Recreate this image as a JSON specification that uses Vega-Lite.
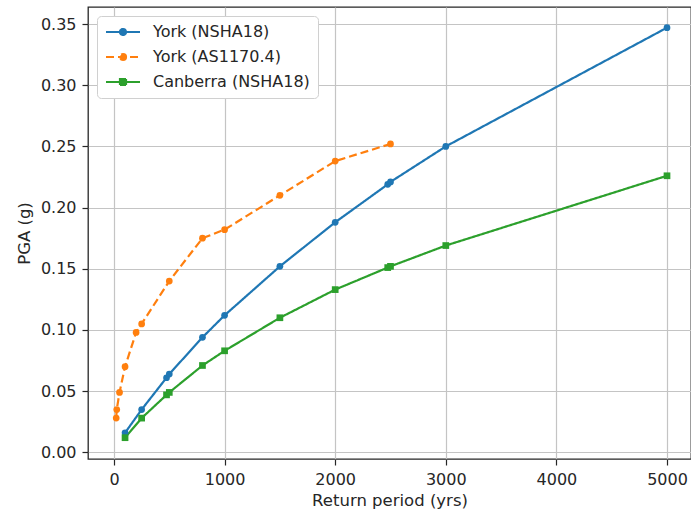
{
  "$schema": "https://vega.github.io/schema/vega-lite/v6.json",
  "width": 603,
  "height": 452,
  "autosize": {"type": "none"},
  "padding": {"left": 88, "top": 7, "right": 0, "bottom": 52},
  "background": "white",
  "config": {
    "font": "DejaVu Sans",
    "view": {"stroke": "#262626", "strokeWidth": 1.3},
    "axis": {
      "labelFont": "DejaVu Sans",
      "titleFont": "DejaVu Sans",
      "labelFontSize": 16,
      "titleFontSize": 16.5,
      "titleFontWeight": "normal",
      "labelColor": "#262626",
      "titleColor": "#262626",
      "domain": false,
      "tickColor": "#262626",
      "tickSize": 6,
      "tickWidth": 1.2,
      "gridColor": "#c4c4c4",
      "gridWidth": 1.2
    }
  },
  "data": {
    "values": [
      {"series": "York (NSHA18)", "rp": 100, "pga": 0.016},
      {"series": "York (NSHA18)", "rp": 250, "pga": 0.035},
      {"series": "York (NSHA18)", "rp": 475, "pga": 0.061},
      {"series": "York (NSHA18)", "rp": 500, "pga": 0.064},
      {"series": "York (NSHA18)", "rp": 800, "pga": 0.094},
      {"series": "York (NSHA18)", "rp": 1000, "pga": 0.112},
      {"series": "York (NSHA18)", "rp": 1500, "pga": 0.152},
      {"series": "York (NSHA18)", "rp": 2000, "pga": 0.188},
      {"series": "York (NSHA18)", "rp": 2475, "pga": 0.219},
      {"series": "York (NSHA18)", "rp": 2500, "pga": 0.221},
      {"series": "York (NSHA18)", "rp": 3000, "pga": 0.250},
      {"series": "York (NSHA18)", "rp": 5000, "pga": 0.347},
      {"series": "York (AS1170.4)", "rp": 20, "pga": 0.028},
      {"series": "York (AS1170.4)", "rp": 25, "pga": 0.035},
      {"series": "York (AS1170.4)", "rp": 50, "pga": 0.049},
      {"series": "York (AS1170.4)", "rp": 100, "pga": 0.070},
      {"series": "York (AS1170.4)", "rp": 200, "pga": 0.098},
      {"series": "York (AS1170.4)", "rp": 250, "pga": 0.105},
      {"series": "York (AS1170.4)", "rp": 500, "pga": 0.140},
      {"series": "York (AS1170.4)", "rp": 800, "pga": 0.175},
      {"series": "York (AS1170.4)", "rp": 1000, "pga": 0.182},
      {"series": "York (AS1170.4)", "rp": 1500, "pga": 0.210},
      {"series": "York (AS1170.4)", "rp": 2000, "pga": 0.238},
      {"series": "York (AS1170.4)", "rp": 2500, "pga": 0.252},
      {"series": "Canberra (NSHA18)", "rp": 100, "pga": 0.012},
      {"series": "Canberra (NSHA18)", "rp": 250, "pga": 0.028},
      {"series": "Canberra (NSHA18)", "rp": 475, "pga": 0.047},
      {"series": "Canberra (NSHA18)", "rp": 500, "pga": 0.049},
      {"series": "Canberra (NSHA18)", "rp": 800, "pga": 0.071},
      {"series": "Canberra (NSHA18)", "rp": 1000, "pga": 0.083},
      {"series": "Canberra (NSHA18)", "rp": 1500, "pga": 0.110},
      {"series": "Canberra (NSHA18)", "rp": 2000, "pga": 0.133},
      {"series": "Canberra (NSHA18)", "rp": 2475, "pga": 0.151},
      {"series": "Canberra (NSHA18)", "rp": 2500, "pga": 0.152},
      {"series": "Canberra (NSHA18)", "rp": 3000, "pga": 0.169},
      {"series": "Canberra (NSHA18)", "rp": 5000, "pga": 0.226}
    ]
  },
  "encoding": {
    "x": {
      "field": "rp", "type": "quantitative",
      "scale": {"domain": [-235, 5217], "nice": false, "zero": false},
      "axis": {"title": "Return period (yrs)", "values": [0, 1000, 2000, 3000, 4000, 5000], "format": "d", "labelPadding": 6, "titlePadding": 5}
    },
    "y": {
      "field": "pga", "type": "quantitative",
      "scale": {"domain": [-0.0054, 0.3639], "nice": false, "zero": false},
      "axis": {"title": "PGA (g)", "values": [0, 0.05, 0.1, 0.15, 0.2, 0.25, 0.3, 0.35], "format": ".2f", "labelPadding": 6, "titlePadding": 8}
    },
    "color": {
      "field": "series", "type": "nominal",
      "scale": {"domain": ["York (NSHA18)", "York (AS1170.4)", "Canberra (NSHA18)"], "range": ["#1f77b4", "#ff7f0e", "#2ca02c"]}
    }
  },
  "layer": [
    {
      "mark": {"type": "line", "strokeWidth": 2.2},
      "encoding": {
        "strokeDash": {
          "field": "series", "type": "nominal",
          "scale": {"domain": ["York (NSHA18)", "York (AS1170.4)", "Canberra (NSHA18)"], "range": [[1, 0], [8, 4], [1, 0]]}
        },
        "color": {
          "field": "series", "type": "nominal",
          "scale": {"domain": ["York (NSHA18)", "York (AS1170.4)", "Canberra (NSHA18)"], "range": ["#1f77b4", "#ff7f0e", "#2ca02c"]},
          "legend": {
            "title": null,
            "orient": "none",
            "legendX": 9,
            "legendY": 9,
            "padding": 8,
            "fillColor": "white",
            "strokeColor": "#d0d0d0",
            "cornerRadius": 4,
            "labelFont": "DejaVu Sans",
            "labelFontSize": 16,
            "labelColor": "#262626",
            "symbolSize": 100,
            "symbolStrokeWidth": 2.2,
            "symbolOffset": 10,
            "labelOffset": 22,
            "rowPadding": 9,
            "encode": {
              "symbols": {
                "update": {
                  "shape": {"signal": "datum.value == 'Canberra (NSHA18)' ? 'M-3.4,0L3.4,0M-0.6,-0.6L0.6,-0.6L0.6,0.6L-0.6,0.6Z' : 'M-3.4,0L3.4,0M0.6,0A0.6,0.6 0 1,1 -0.6,0A0.6,0.6 0 1,1 0.6,0Z'"},
                  "fill": {"signal": "scale('color', datum.value)"},
                  "fillOpacity": {"value": 1}
                }
              }
            }
          }
        }
      }
    },
    {
      "transform": [{"filter": "datum.series != 'Canberra (NSHA18)'"}],
      "mark": {"type": "point", "filled": true, "opacity": 1, "size": 45, "shape": "circle"},
      "encoding": {
        "color": {"field": "series", "type": "nominal", "legend": null}
      }
    },
    {
      "transform": [{"filter": "datum.series == 'Canberra (NSHA18)'"}],
      "mark": {"type": "point", "filled": true, "opacity": 1, "size": 45, "shape": "square"},
      "encoding": {
        "color": {"field": "series", "type": "nominal", "legend": null}
      }
    }
  ]
}
